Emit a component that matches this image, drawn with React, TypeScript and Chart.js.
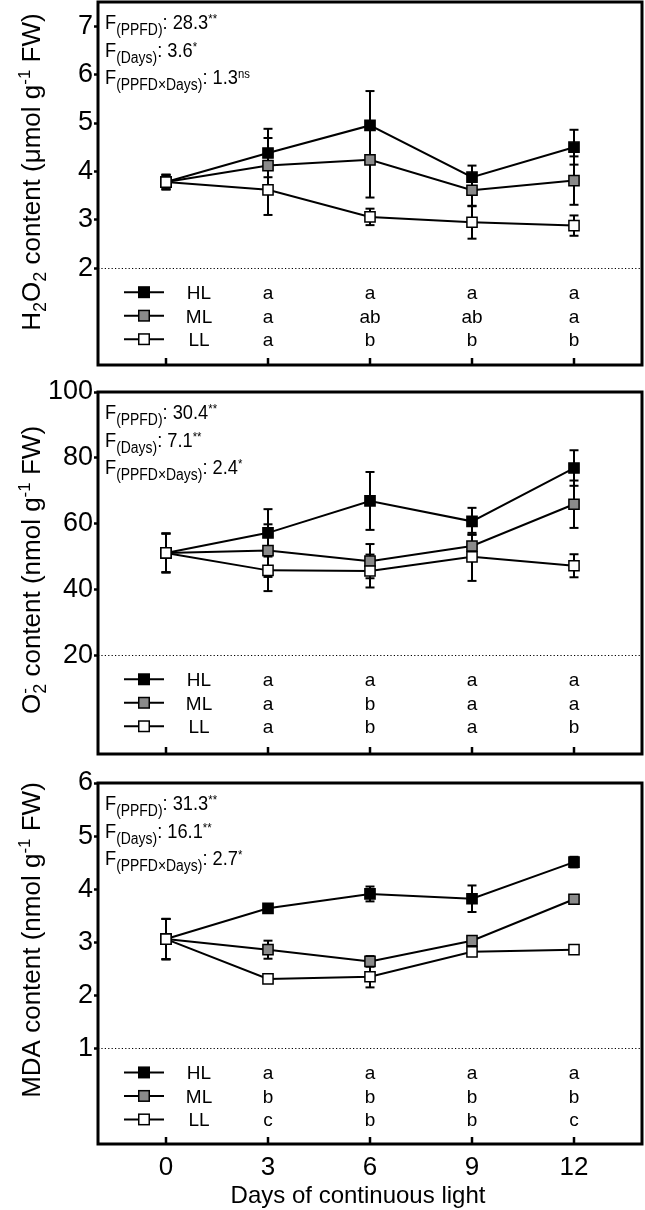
import React, { useEffect, useRef } from 'react';
import { Chart, registerables } from 'chart.js';

Chart.register(...registerables);

const FAMILY = '"Liberation Sans", Arial, Helvetica, sans-serif';

// ---------- shared categories ----------
const days = [0, 3, 6, 9, 12];
const xTicks = [0, 3, 6, 9, 12];
const letterDays = [3, 6, 9, 12];
const seriesNames = ['HL', 'ML', 'LL'];
const seriesFill = ['#000000', '#8a8a8a', '#ffffff'];
const fTerms = ['(PPFD)', '(Days)', '(PPFD×Days)'];
const xTitle = 'Days of continuous light';

// ---------- H2O2 ----------
const h2o2HL = [3.78, 4.38, 4.95, 3.88, 4.5];
const h2o2HLErr = [0.15, 0.5, 0.71, 0.24, 0.36];
const h2o2ML = [3.78, 4.12, 4.24, 3.61, 3.81];
const h2o2MLErr = [0.15, 0.57, 0.78, 0.33, 0.5];
const h2o2LL = [3.78, 3.62, 3.06, 2.95, 2.88];
const h2o2LLErr = [0.15, 0.52, 0.17, 0.34, 0.21];
const h2o2YTicks = [2, 3, 4, 5, 6, 7];
const h2o2LettersHL = ['a', 'a', 'a', 'a'];
const h2o2LettersML = ['a', 'ab', 'ab', 'a'];
const h2o2LettersLL = ['a', 'b', 'b', 'b'];
const h2o2FValues = ['28.3', '3.6', '1.3'];
const h2o2FSig = ['**', '*', 'ns'];

// ---------- O2- ----------
const o2HL = [51.1, 57.2, 66.9, 60.7, 76.9];
const o2HLErr = [5.9, 7.2, 8.8, 4.1, 5.4];
const o2ML = [51.1, 51.8, 48.6, 53.2, 65.9];
const o2MLErr = [5.9, 8.0, 5.2, 3.5, 7.2];
const o2LL = [51.1, 45.8, 45.6, 49.9, 47.2];
const o2LLErr = [5.9, 6.3, 5.0, 7.3, 3.5];
const o2YTicks = [20, 40, 60, 80, 100];
const o2LettersHL = ['a', 'a', 'a', 'a'];
const o2LettersML = ['a', 'b', 'a', 'a'];
const o2LettersLL = ['a', 'b', 'a', 'b'];
const o2FValues = ['30.4', '7.1', '2.4'];
const o2FSig = ['**', '**', '*'];

// ---------- MDA ----------
const mdaHL = [3.06, 3.64, 3.91, 3.82, 4.51];
const mdaHLErr = [0.38, 0.06, 0.14, 0.25, 0.1];
const mdaML = [3.06, 2.86, 2.64, 3.03, 3.81];
const mdaMLErr = [0.38, 0.17, 0.1, 0.08, 0.06];
const mdaLL = [3.06, 2.31, 2.35, 2.82, 2.86];
const mdaLLErr = [0.38, 0.05, 0.2, 0.05, 0.05];
const mdaYTicks = [1, 2, 3, 4, 5, 6];
const mdaLettersHL = ['a', 'a', 'a', 'a'];
const mdaLettersML = ['b', 'b', 'b', 'b'];
const mdaLettersLL = ['c', 'b', 'b', 'c'];
const mdaFValues = ['31.3', '16.1', '2.7'];
const mdaFSig = ['**', '**', '*'];

// ---------- rich text ----------
type Seg = { t: string; k?: 'sub' | 'sup'; stack?: boolean };
type RichStyle = { size: number; sub: number; sup: number; subDy: number; supDy: number; sx: number };

const titleStyle: RichStyle = { size: 26, sub: 18, sup: 17, subDy: 6, supDy: -10, sx: 1 };
const statStyle: RichStyle = { size: 21, sub: 16, sup: 13, subDy: 6, supDy: -6, sx: 0.87 };

function segFont(seg: Seg, st: RichStyle) {
  const s = seg.k === 'sub' ? st.sub : seg.k === 'sup' ? st.sup : st.size;
  return `${s}px ${FAMILY}`;
}

function drawRich(ctx: CanvasRenderingContext2D, segs: Seg[], st: RichStyle, x: number, y: number, align: 'left' | 'center', rotate = false) {
  ctx.save();
  ctx.translate(x, y);
  if (rotate) ctx.rotate(-Math.PI / 2);
  ctx.scale(st.sx, 1);
  let cx = 0;
  let prevStart = 0;
  const items: { seg: Seg; x: number }[] = [];
  for (const seg of segs) {
    ctx.font = segFont(seg, st);
    const w = ctx.measureText(seg.t).width;
    let sx = cx;
    if (seg.stack) {
      sx = prevStart;
      cx = Math.max(cx, prevStart + w);
    } else {
      cx += w;
      prevStart = sx;
    }
    items.push({ seg, x: sx });
  }
  const x0 = align === 'center' ? -cx / 2 : 0;
  ctx.fillStyle = '#000';
  ctx.textAlign = 'left';
  ctx.textBaseline = 'alphabetic';
  for (const it of items) {
    ctx.font = segFont(it.seg, st);
    const dy = it.seg.k === 'sub' ? st.subDy : it.seg.k === 'sup' ? st.supDy : 0;
    ctx.fillText(it.seg.t, x0 + it.x, dy);
  }
  ctx.restore();
}

// ---------- panels ----------
type Series = { vals: number[]; errs: number[]; letters: string[] };
type Panel = {
  top: number; height: number; padTop: number; bottomH: number;
  yMin: number; yMax: number; yTicks: number[]; ref: number;
  series: Series[]; fValues: string[]; fSig: string[];
  title: Seg[]; titleCY: number; showX: boolean;
};

const panels: Panel[] = [
  {
    top: 0, height: 390, padTop: 2, bottomH: 25, yMin: 0, yMax: 7.5, yTicks: h2o2YTicks, ref: 2,
    series: [
      { vals: h2o2HL, errs: h2o2HLErr, letters: h2o2LettersHL },
      { vals: h2o2ML, errs: h2o2MLErr, letters: h2o2LettersML },
      { vals: h2o2LL, errs: h2o2LLErr, letters: h2o2LettersLL },
    ],
    fValues: h2o2FValues, fSig: h2o2FSig,
    title: [{ t: 'H' }, { t: '2', k: 'sub' }, { t: 'O' }, { t: '2', k: 'sub' }, { t: ' content (μmol g' }, { t: '-1', k: 'sup' }, { t: ' FW)' }],
    titleCY: 172, showX: false,
  },
  {
    top: 376, height: 404, padTop: 16, bottomH: 26, yMin: -10, yMax: 100, yTicks: o2YTicks, ref: 20,
    series: [
      { vals: o2HL, errs: o2HLErr, letters: o2LettersHL },
      { vals: o2ML, errs: o2MLErr, letters: o2LettersML },
      { vals: o2LL, errs: o2LLErr, letters: o2LettersLL },
    ],
    fValues: o2FValues, fSig: o2FSig,
    title: [{ t: 'O' }, { t: '2', k: 'sub' }, { t: '-', k: 'sup', stack: true }, { t: ' content (nmol g' }, { t: '-1', k: 'sup' }, { t: ' FW)' }],
    titleCY: 194, showX: false,
  },
  {
    top: 767, height: 443, padTop: 16, bottomH: 66, yMin: -0.8, yMax: 6, yTicks: mdaYTicks, ref: 1,
    series: [
      { vals: mdaHL, errs: mdaHLErr, letters: mdaLettersHL },
      { vals: mdaML, errs: mdaMLErr, letters: mdaLettersML },
      { vals: mdaLL, errs: mdaLLErr, letters: mdaLettersLL },
    ],
    fValues: mdaFValues, fSig: mdaFSig,
    title: [{ t: 'MDA content (nmol g' }, { t: '-1', k: 'sup' }, { t: ' FW)' }],
    titleCY: 173, showX: true,
  },
];

const rowBaselines = [31, 54.5, 78];
const statBaselines = [27, 54.5, 82];

function line(ctx: CanvasRenderingContext2D, x1: number, y1: number, x2: number, y2: number) {
  ctx.beginPath();
  ctx.moveTo(x1, y1);
  ctx.lineTo(x2, y2);
  ctx.stroke();
}

function PanelChart({ p }: { p: Panel }) {
  const ref = useRef<HTMLCanvasElement | null>(null);
  useEffect(() => {
    const canvas = ref.current;
    if (!canvas) return;
    const decor = {
      id: 'decor',
      beforeDatasetsDraw(chart: any) {
        const ctx: CanvasRenderingContext2D = chart.ctx;
        const xs = chart.scales.x;
        const ys = chart.scales.y;
        const a = chart.chartArea;
        // dotted reference line
        ctx.save();
        ctx.strokeStyle = '#000';
        ctx.lineWidth = 1.2;
        ctx.setLineDash([1.2, 2.2]);
        const yr = Math.round(ys.getPixelForValue(p.ref)) + 0.5;
        line(ctx, a.left, yr, a.right, yr);
        ctx.restore();
        // error bars
        ctx.save();
        ctx.strokeStyle = '#000';
        ctx.lineWidth = 2;
        p.series.forEach((s) => {
          s.vals.forEach((v, i) => {
            const e = s.errs[i];
            const x = xs.getPixelForValue(days[i]);
            const y1 = ys.getPixelForValue(v + e);
            const y2 = ys.getPixelForValue(v - e);
            line(ctx, x, y1, x, y2);
            line(ctx, x - 4.5, y1, x + 4.5, y1);
            line(ctx, x - 4.5, y2, x + 4.5, y2);
          });
        });
        ctx.restore();
      },
      afterDraw(chart: any) {
        const ctx: CanvasRenderingContext2D = chart.ctx;
        const xs = chart.scales.x;
        const ys = chart.scales.y;
        const a = chart.chartArea;
        ctx.save();
        // frame
        ctx.strokeStyle = '#000';
        ctx.lineWidth = 3;
        ctx.strokeRect(a.left, a.top, a.right - a.left, a.bottom - a.top);
        // inward x ticks
        ctx.lineWidth = 2.5;
        xTicks.forEach((d) => {
          const x = xs.getPixelForValue(d);
          line(ctx, x, a.bottom, x, a.bottom - 7);
        });
        // legend + letters
        const yr = ys.getPixelForValue(p.ref);
        p.series.forEach((s, i) => {
          const yb = yr + rowBaselines[i];
          const ym = yb - 7;
          ctx.lineWidth = 2;
          ctx.strokeStyle = '#000';
          line(ctx, 124, ym, 164, ym);
          const side = 10.5;
          ctx.fillStyle = seriesFill[i];
          ctx.fillRect(144 - side / 2, ym - side / 2, side, side);
          ctx.lineWidth = 1.5;
          ctx.strokeRect(144 - side / 2, ym - side / 2, side, side);
          ctx.fillStyle = '#000';
          ctx.font = `19px ${FAMILY}`;
          ctx.textAlign = 'center';
          ctx.textBaseline = 'alphabetic';
          ctx.fillText(seriesNames[i], 199, yb);
          s.letters.forEach((l, j) => {
            ctx.fillText(l, xs.getPixelForValue(letterDays[j]), yb);
          });
        });
        ctx.restore();
        // F statistics
        fTerms.forEach((term, i) => {
          drawRich(ctx, [{ t: 'F' }, { t: term, k: 'sub' }, { t: ': ' + p.fValues[i] }, { t: p.fSig[i], k: 'sup' }], statStyle, 105, a.top + statBaselines[i], 'left');
        });
        // y title
        drawRich(ctx, p.title, titleStyle, 40, p.titleCY, 'center', true);
        // x title
        if (p.showX) {
          ctx.save();
          ctx.fillStyle = '#000';
          ctx.font = `24px ${FAMILY}`;
          ctx.textAlign = 'center';
          ctx.textBaseline = 'alphabetic';
          ctx.fillText(xTitle, 358, p.height - 7);
          ctx.restore();
        }
      },
    };

    const mk = (idx: number) => ({
      label: seriesNames[idx],
      data: days.map((d, i) => ({ x: d, y: p.series[idx].vals[i] })),
      showLine: true,
      borderColor: '#000',
      borderWidth: 2,
      tension: 0,
      pointStyle: 'rect',
      pointRadius: 7.2,
      pointHoverRadius: 7.2,
      pointBackgroundColor: seriesFill[idx],
      pointBorderColor: '#000',
      pointBorderWidth: 1.5,
    });

    const chart = new Chart(canvas, {
      type: 'scatter',
      data: { datasets: [mk(2), mk(1), mk(0)] },
      options: {
        animation: false,
        responsive: false,
        maintainAspectRatio: false,
        layout: { autoPadding: false, padding: { top: p.padTop, right: 3, left: 0, bottom: 0 } },
        plugins: { legend: { display: false }, tooltip: { enabled: false } },
        scales: {
          x: {
            type: 'linear',
            min: -2,
            max: 14,
            afterBuildTicks: (s: any) => { s.ticks = xTicks.map((v) => ({ value: v })); },
            afterFit: (s: any) => {
              s.height = p.bottomH;
              s.paddingLeft = 0; s.paddingRight = 0; s.paddingTop = 0; s.paddingBottom = 0;
            },
            grid: { display: false, drawTicks: false },
            border: { display: false },
            ticks: { display: p.showX, autoSkip: false, maxRotation: 0, color: '#000', font: { family: FAMILY, size: 26 }, padding: 8 },
          },
          y: {
            type: 'linear',
            min: p.yMin,
            max: p.yMax,
            afterBuildTicks: (s: any) => { s.ticks = p.yTicks.map((v) => ({ value: v })); },
            afterFit: (s: any) => {
              s.width = 98;
              s.paddingLeft = 0; s.paddingRight = 0; s.paddingTop = 0; s.paddingBottom = 0;
            },
            grid: { display: true, drawOnChartArea: false, drawTicks: true, tickLength: 4, tickWidth: 2.5, tickColor: '#000', color: '#000' },
            border: { display: false },
            ticks: { color: '#000', font: { family: FAMILY, size: 27 }, padding: 1, autoSkip: false },
          },
        },
      } as any,
      plugins: [decor as any],
    });
    return () => chart.destroy();
  }, [p]);

  return (
    <canvas
      ref={ref}
      width={645}
      height={p.height}
      style={{ position: 'absolute', left: 0, top: p.top, width: 645, height: p.height, display: 'block' }}
    />
  );
}

export default function App() {
  return (
    <div style={{ position: 'absolute', left: 0, top: 0, width: 645, height: 1210, background: '#fff' }}>
      {panels.map((p, i) => (
        <PanelChart key={i} p={p} />
      ))}
    </div>
  );
}
